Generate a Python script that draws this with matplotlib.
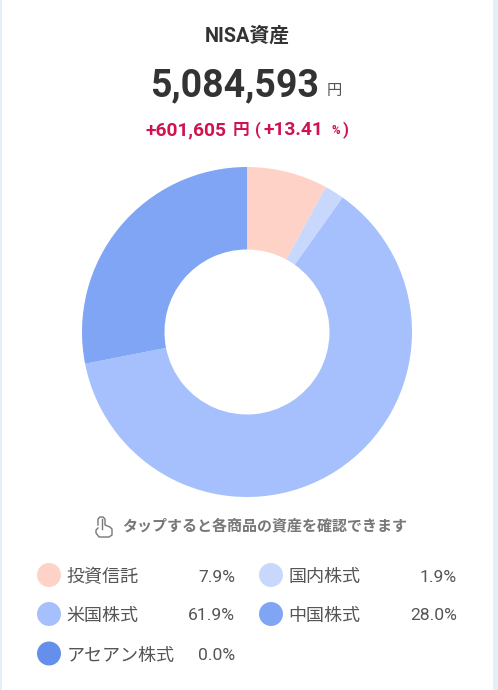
import matplotlib
matplotlib.use("Agg")
import matplotlib.pyplot as plt
from matplotlib.patches import Circle, Rectangle

plt.rcParams['font.family'] = ['Roboto', 'Noto Sans CJK JP', 'DejaVu Sans']

W, H = 498, 690

title = "NISA資産"
total = "5,084,593"
gain = "+601,605"
gain_pct = "+13.41"
hint = "タップすると各商品の資産を確認できます"

categories = ["投資信託", "国内株式", "米国株式", "中国株式", "アセアン株式"]
shares = [7.9, 1.9, 61.9, 28.0, 0.0]
share_labels = ["7.9%", "1.9%", "61.9%", "28.0%", "0.0%"]
colors = ["#ffd2c8", "#c8d7fc", "#a6c0fd", "#80a5f4", "#6490ec"]

dark = "#333333"
grey = "#555555"
red = "#d0134f"

fig = plt.figure(figsize=(W / 100, H / 100), dpi=100, facecolor="white")

# background layer in pixel coordinates, y going down like the screenshot
bg = fig.add_axes([0, 0, 1, 1])
bg.set_xlim(0, W)
bg.set_ylim(H, 0)
bg.axis("off")
bg.add_patch(Rectangle((0, 0), 1.5, H, color="#e3f0f6", lw=0))
bg.add_patch(Rectangle((492.5, 0), 5.5, H, color="#e3f0f6", lw=0))

bg.text(247, 36, title, ha="center", va="center", fontsize=14.3, fontweight="bold", color=dark)
bg.text(319, 86, total, ha="right", va="center", fontsize=27, fontweight="bold", color=dark)
bg.text(334, 91, "円", ha="center", va="center", fontsize=11, color=grey)

bg.text(226, 130, gain, ha="right", va="center", fontsize=13.8, fontweight="bold", color=red)
bg.text(241, 130, "円", ha="center", va="center", fontsize=12, fontweight="bold", color=red)
bg.text(255, 130, "(", ha="left", va="center", fontsize=12, fontweight="bold", color=red)
bg.text(264, 130, gain_pct, ha="left", va="center", fontsize=13.8, fontweight="bold", color=red)
bg.text(332, 131, "%", ha="left", va="center", fontsize=8.5, fontweight="bold", color=red)
bg.text(343, 130, ")", ha="left", va="center", fontsize=12, fontweight="bold", color=red)

# hand icon
hand_x = [98, 98, 100, 103, 105, 105, 110, 112, 112, 109, 99, 96, 96, 98]
hand_y = [525, 519, 517, 517, 519, 525, 527, 529, 535, 537, 537, 533, 530, 528]
bg.plot(hand_x, hand_y, color="#777777", lw=1.0)
bg.plot([101.5, 101.5], [519, 529], color="#777777", lw=1.0)

bg.text(122, 526, hint, ha="left", va="center", fontsize=10.8, fontweight="bold", color="#777777")

# legend, filled row by row in two columns
dot_x = [49, 271]
name_x = [66.5, 288.5]
value_x = [235, 457]
row_y = [577, 616, 655.5]
for i, cat in enumerate(categories):
    col = i % 2
    y = row_y[i // 2]
    bg.add_patch(Circle((dot_x[col], y - 2), 12, color=colors[i], lw=0))
    bg.text(name_x[col], y, cat, ha="left", va="center", fontsize=13, color=grey)
    bg.text(value_x[col], y, share_labels[i], ha="right", va="center", fontsize=12.6, color=grey)

# donut
ax = fig.add_axes([82 / W, (H - 497) / H, 330 / W, 330 / H])
ax.pie(shares, colors=colors, startangle=90, counterclock=False, radius=1,
       wedgeprops=dict(width=0.5, linewidth=0))
ax.set_xlim(-1, 1)
ax.set_ylim(-1, 1)

fig.savefig("out.png", dpi=100, facecolor="white")
